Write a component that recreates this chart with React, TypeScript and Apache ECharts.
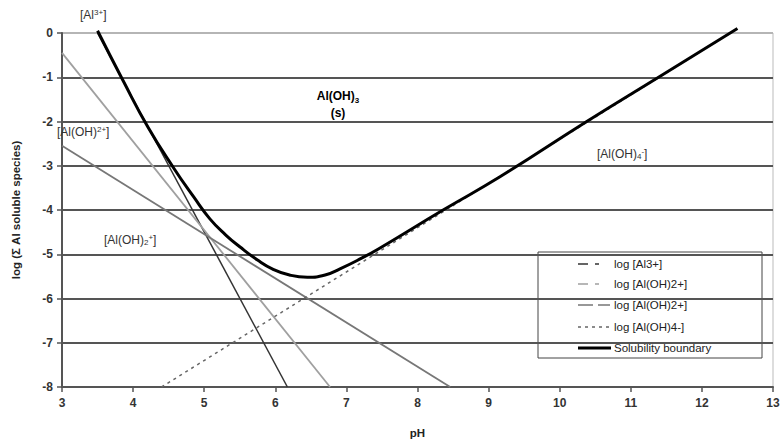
import React, { useEffect, useRef } from "react";
import * as echarts from "echarts";

// pH values and log concentrations
const al3pH = [3.5, 6.17];
const al3Log = [0.0, -8.0];

const aloh2pH = [3.0, 6.77];
const aloh2Log = [-0.45, -8.0];

const aloh2plusPH = [3.0, 8.46];
const aloh2plusLog = [-2.55, -8.0];

const aloh4pH = [4.4, 12.4];
const aloh4Log = [-8.0, 0.0];

const boundaryPH = [3.5, 3.86, 4.21, 4.57, 4.85, 5.08, 5.3, 5.5, 5.75, 5.97, 6.2, 6.45, 6.7, 6.91, 7.2, 7.45, 8.36, 9.16, 10.38, 11.39, 12.5];
const boundaryLog = [0.05, -1.08, -2.13, -3.05, -3.7, -4.2, -4.56, -4.83, -5.13, -5.34, -5.47, -5.52, -5.47, -5.33, -5.1, -4.88, -4.0, -3.25, -2.0, -1.0, 0.1];

const legendNames = ["log [Al3+]", "log [Al(OH)2+]", "log [Al(OH)2+]", "log [Al(OH)4-]", "Solubility boundary"];

const pairs = (xs: number[], ys: number[]) => xs.map((x, i) => [x, ys[i]]);

const FONT = "'Liberation Sans', Arial, sans-serif";

export default function App() {
  const ref = useRef<HTMLDivElement>(null);
  useEffect(() => {
    if (!ref.current) return;
    const chart = echarts.init(ref.current, null, { renderer: "svg" });
    const gridColors = ["#555", "#555", "#555", "#555", "#555", "#555", "#555", "#555", "#b5b5b5"];
    const legendStyles = [
      { color: "#333", width: 1.5, dash: [10, 7, 4, 20] },
      { color: "#a0a0a0", width: 1.5, dash: [10, 7, 4, 20] },
      { color: "#777", width: 1.5, dash: [15, 5, 12, 20] },
      { color: "#666", width: 1.5, dash: [3, 4] },
      { color: "#000", width: 3, dash: null as any },
    ];
    const lx = 538, ly = 252;
    const legendChildren: any[] = [
      { type: "rect", shape: { x: lx, y: ly, width: 224, height: 106 }, style: { fill: "#fff", stroke: "#444", lineWidth: 1 } },
    ];
    const rowY = [264, 284, 305, 327, 348];
    legendNames.forEach((n, i) => {
      const s = legendStyles[i];
      legendChildren.push({
        type: "line",
        shape: { x1: 578, y1: rowY[i], x2: 611, y2: rowY[i] },
        style: { stroke: s.color, lineWidth: s.width, lineDash: s.dash || undefined },
      });
      legendChildren.push({
        type: "text",
        x: 614,
        y: rowY[i],
        style: { text: n, font: `11.5px ${FONT}`, fill: "#222", verticalAlign: "middle" },
      });
    });
    const rich = {
      b: { fontSize: 12, fontFamily: FONT, color: "#333" },
      sup: { fontSize: 8, fontFamily: FONT, color: "#333", verticalAlign: "top", padding: [0, 0, 5, 0] },
      sub: { fontSize: 8, fontFamily: FONT, color: "#333", verticalAlign: "bottom", padding: [5, 0, 0, 0] },
    };
    const label = (x: number, y: number, text: string) => ({
      type: "text",
      x,
      y,
      z: 100,
      style: { text, rich, font: `12px ${FONT}`, fill: "#333", verticalAlign: "middle" },
    });
    chart.setOption({
      animation: false,
      backgroundColor: "#fff",
      grid: { left: 62, right: 10, top: 33, bottom: 58, show: true, borderColor: "#bbb", borderWidth: 1, backgroundColor: "transparent" },
      xAxis: {
        type: "value",
        min: 3,
        max: 13,
        interval: 1,
        name: "pH",
        nameLocation: "middle",
        nameGap: 40,
        nameTextStyle: { fontFamily: FONT, fontWeight: "bold", fontSize: 11.5, color: "#222" },
        axisLine: { show: true, onZero: false, lineStyle: { color: "#555", width: 2 } },
        axisTick: { show: true, length: 5, lineStyle: { color: "#555", width: 1.5 } },
        axisLabel: { fontFamily: FONT, fontWeight: "bold", fontSize: 12, color: "#333", margin: 10 },
        splitLine: { show: false },
      },
      yAxis: {
        type: "value",
        min: -8,
        max: 0,
        interval: 1,
        name: "log (Σ Al soluble species)",
        nameLocation: "middle",
        nameGap: 40,
        nameTextStyle: { fontFamily: FONT, fontWeight: "bold", fontSize: 11.5, color: "#222" },
        axisLine: { show: true, onZero: false, lineStyle: { color: "#555", width: 2 } },
        axisTick: { show: true, length: 5, lineStyle: { color: "#555", width: 1.5 } },
        axisLabel: { fontFamily: FONT, fontWeight: "bold", fontSize: 12, color: "#333", margin: 9 },
        splitLine: { show: true, lineStyle: { color: gridColors, width: 1.8 } },
      },
      series: [
        { name: legendNames[0], type: "line", data: pairs(al3pH, al3Log), symbol: "none", lineStyle: { color: "#333", width: 1.5 }, z: 3 },
        { name: legendNames[1], type: "line", data: pairs(aloh2pH, aloh2Log), symbol: "none", lineStyle: { color: "#a0a0a0", width: 1.8 }, z: 3 },
        { name: legendNames[2], type: "line", data: pairs(aloh2plusPH, aloh2plusLog), symbol: "none", lineStyle: { color: "#777", width: 1.8 }, z: 3 },
        { name: legendNames[3], type: "line", data: pairs(aloh4pH, aloh4Log), symbol: "none", lineStyle: { color: "#666", width: 1.5, type: [3, 4] }, z: 3 },
        { name: legendNames[4], type: "line", data: pairs(boundaryPH, boundaryLog), symbol: "none", smooth: 0.5, clip: false, lineStyle: { color: "#000", width: 3 }, z: 4 },
      ],
      graphic: [
        ...legendChildren,
        label(80, 15, "{b|[Al}{sup|3+}{b|]}"),
        label(57, 132, "{b|[Al(OH)}{sup|2+}{b|]}"),
        label(104, 240, "{b|[Al(OH)}{sub|2}{sup|+}{b|]}"),
        label(597, 154, "{b|[Al(OH)}{sub|4}{sup|-}{b|]}"),
        {
          type: "text",
          x: 338,
          y: 104,
          z: 100,
          style: { text: "{a|Al(OH)}{s|3}\n{a|(s)}", rich: { a: { fontSize: 12, fontWeight: "bold", fontFamily: FONT, color: "#222", lineHeight: 17 }, s: { fontSize: 8, fontWeight: "bold", fontFamily: FONT, color: "#222", verticalAlign: "bottom", padding: [5, 0, 0, 0] } }, align: "center", verticalAlign: "middle" },
        },
      ],
    });
    return () => chart.dispose();
  }, []);
  return <div ref={ref} style={{ position: "fixed", left: 0, top: 0, width: 783, height: 445 }} />;
}
